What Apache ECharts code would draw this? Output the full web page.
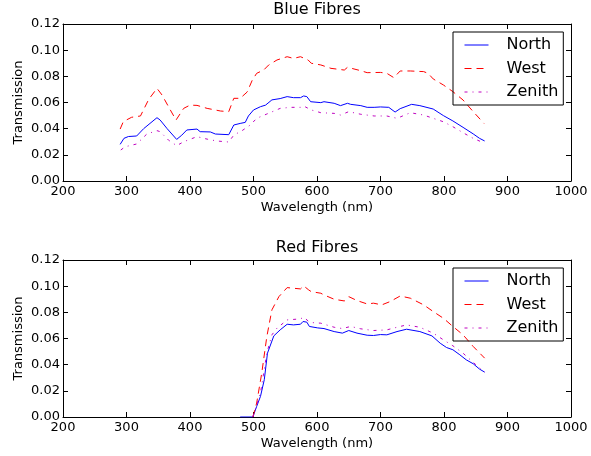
<!DOCTYPE html>
<html>
<head>
<meta charset="utf-8">
<script src="https://cdn.jsdelivr.net/npm/echarts@6/dist/echarts.min.js"></script>
<style>
	html, body { margin: 0; padding: 0; background: #fff; }
	#main { width: 591px; height: 456px; }
</style>
</head>
<body>
<div id="main"></div>
<script>
// [wavelength nm, transmission]
var blueNorth = [
	[290, 0.028], [296, 0.0326], [303, 0.034], [316, 0.0344], [327, 0.040], [337, 0.044], [348, 0.0484],
	[353, 0.0466], [364, 0.040], [379, 0.0318], [387, 0.035], [395, 0.039], [411, 0.0397], [416, 0.0377],
	[432, 0.0375], [440, 0.0359], [461, 0.0354], [469, 0.0428], [479, 0.044], [487, 0.0448], [492, 0.0497],
	[500, 0.0543], [511, 0.0568], [519, 0.058], [529, 0.062], [542, 0.063], [553, 0.0645], [563, 0.0637],
	[574, 0.0637], [579, 0.065], [584, 0.0645], [590, 0.0606], [606, 0.0599], [611, 0.0606], [627, 0.0594],
	[637, 0.0576], [648, 0.0594], [653, 0.0586], [669, 0.0576], [679, 0.0563], [690, 0.0563], [700, 0.0566],
	[713, 0.0563], [723, 0.0527], [731, 0.0553], [749, 0.0586], [762, 0.0576], [783, 0.055], [799, 0.050],
	[814, 0.0459], [830, 0.041], [846, 0.036], [856, 0.0326], [864, 0.0306]
];
var blueWest = [
	[290, 0.0397], [295, 0.0454], [308, 0.0487], [322, 0.0497], [335, 0.0624], [348, 0.0708], [356, 0.0657],
	[369, 0.0543], [378, 0.0466], [390, 0.0555], [400, 0.058], [411, 0.0578], [427, 0.0555], [448, 0.0535],
	[461, 0.053], [469, 0.0632], [479, 0.0632], [490, 0.068], [498, 0.077], [505, 0.0823], [516, 0.0848],
	[524, 0.0887], [537, 0.0925], [553, 0.095], [563, 0.0937], [574, 0.095], [577, 0.0963], [586, 0.0925],
	[591, 0.090], [606, 0.0887], [622, 0.0861], [643, 0.0848], [648, 0.0869], [669, 0.0843], [679, 0.0828],
	[700, 0.083], [710, 0.0823], [721, 0.079], [731, 0.0841], [747, 0.0841], [768, 0.0836], [775, 0.0823],
	[783, 0.078], [799, 0.0734], [814, 0.0683], [830, 0.0619], [846, 0.053], [863, 0.044]
];
var blueZenith = [
	[291, 0.0237], [298, 0.0262], [316, 0.0283], [332, 0.0359], [348, 0.0385], [353, 0.0377], [366, 0.0313],
	[379, 0.027], [390, 0.030], [411, 0.0339], [427, 0.032], [442, 0.0306], [461, 0.0298], [469, 0.0351],
	[482, 0.0385], [495, 0.0428], [505, 0.0479], [521, 0.0512], [542, 0.0555], [558, 0.0563], [574, 0.0563],
	[579, 0.0573], [591, 0.0543], [606, 0.0522], [627, 0.0517], [637, 0.0504], [650, 0.053], [669, 0.051],
	[690, 0.0497], [710, 0.0497], [726, 0.0479], [747, 0.0522], [768, 0.0504], [783, 0.0479], [799, 0.0453],
	[814, 0.0415], [830, 0.0369], [846, 0.0326], [862, 0.0293]
];
var redNorth = [
	[479, 0], [499, 0], [505, 0.0081], [511, 0.0158], [517, 0.0285], [522, 0.0488], [532, 0.062], [542, 0.0666],
	[553, 0.0709], [563, 0.0704], [574, 0.0709], [578, 0.073], [584, 0.0725], [588, 0.0692], [601, 0.0681],
	[611, 0.0676], [627, 0.0653], [640, 0.0641], [650, 0.0661], [663, 0.0641], [679, 0.0625], [689, 0.0623],
	[700, 0.063], [710, 0.0628], [726, 0.0653], [741, 0.0671], [762, 0.0653], [781, 0.062], [794, 0.0564],
	[804, 0.0531], [814, 0.0514], [825, 0.0475], [835, 0.0437], [846, 0.0407], [856, 0.0366], [864, 0.0343]
];
var redWest = [
	[499, 0], [505, 0.0107], [513, 0.0336], [521, 0.0615], [529, 0.0819], [540, 0.092], [553, 0.0989],
	[563, 0.0984], [574, 0.0979], [579, 0.1002], [587, 0.0971], [591, 0.0958], [606, 0.0946], [611, 0.0933],
	[627, 0.09], [643, 0.0887], [650, 0.092], [663, 0.089], [679, 0.0864], [689, 0.087], [702, 0.0857],
	[715, 0.0882], [731, 0.0925], [747, 0.0908], [768, 0.0857], [783, 0.0806], [799, 0.0755], [814, 0.0692],
	[830, 0.0628], [846, 0.0539], [864, 0.045]
];
var redZenith = [
	[499, 0], [511, 0.0183], [521, 0.0488], [529, 0.0628], [537, 0.0679], [553, 0.0742], [574, 0.075],
	[579, 0.0763], [587, 0.073], [591, 0.0722], [606, 0.0717], [627, 0.0686], [640, 0.0676], [653, 0.0692],
	[669, 0.0674], [689, 0.0661], [710, 0.0666], [726, 0.0686], [741, 0.0704], [762, 0.0686], [783, 0.0641],
	[799, 0.059], [814, 0.0544], [830, 0.0488], [846, 0.0417], [864, 0.0343]
];
var names = ["North", "West", "Zenith"];
var titles = ["Blue Fibres", "Red Fibres"];

var FONT = "DejaVu Sans";
var colors = ["#0000ff", "#ff0000", "#bf00bf"];
var dashes = ["solid", [7, 5], [3, 5, 1, 5]];

function xAx(grid, pos, main) {
	return {
		type: "value", gridIndex: grid, position: pos,
		min: 200, max: 1000, interval: 100,
		name: main ? "Wavelength (nm)" : "",
		nameLocation: "middle", nameGap: 20, nameMoveOverlap: false,
		nameTextStyle: { fontFamily: FONT, fontSize: 13, color: "#000" },
		axisLine: { show: true, onZero: false, lineStyle: { color: "#000", width: 1 } },
		axisTick: { show: true, inside: true, length: 5, lineStyle: { color: "#000" } },
		axisLabel: {
			show: main, margin: 4, fontFamily: FONT, fontSize: 13, color: "#000",
			formatter: function (v) { return String(v); }
		},
		splitLine: { show: false }
	};
}
function yAx(grid, pos, main) {
	return {
		type: "value", gridIndex: grid, position: pos,
		min: 0, max: 0.12, interval: 0.02,
		name: main ? "Transmission" : "",
		nameLocation: "middle", nameGap: 38, nameRotate: 90, nameMoveOverlap: false,
		nameTextStyle: { fontFamily: FONT, fontSize: 13, color: "#000" },
		axisLine: { show: true, onZero: false, lineStyle: { color: "#000", width: 1 } },
		axisTick: { show: true, inside: true, length: 5, lineStyle: { color: "#000" } },
		axisLabel: {
			show: main, margin: 3, fontFamily: FONT, fontSize: 13, color: "#000",
			formatter: function (v) { return v.toFixed(2); }
		},
		splitLine: { show: false }
	};
}
function line(name, data, k, g) {
	return {
		name: name, type: "line", data: data,
		xAxisIndex: g * 2, yAxisIndex: g * 2,
		symbol: "none", showSymbol: false,
		lineStyle: { color: colors[k], width: 1, type: dashes[k] },
		itemStyle: { color: colors[k] },
		emphasis: { disabled: true }
	};
}
function legend(top) {
	return {
		orient: "vertical", left: 453, top: top,
		data: names,
		itemWidth: 24, itemHeight: 12, itemGap: 7.5,
		padding: [5, 5, 5, 11],
		borderColor: "#000", borderWidth: 1, borderRadius: 0,
		itemStyle: { opacity: 0 },
		lineStyle: { width: 1 },
		textStyle: { fontFamily: FONT, fontSize: 16, color: "#000", padding: [0, 0, 0, 13] }
	};
}

var myChart = echarts.init(document.getElementById("main"), null, { renderer: "canvas" });
var option = {
	animation: false,
	title: [
		{ text: titles[0], left: 317, top: 2, textAlign: "center", padding: 0,
			textStyle: { fontFamily: FONT, fontSize: 16, fontWeight: "normal", color: "#000" } },
		{ text: titles[1], left: 317, top: 240, textAlign: "center", padding: 0,
			textStyle: { fontFamily: FONT, fontSize: 16, fontWeight: "normal", color: "#000" } }
	],
	grid: [
		{ left: 63, top: 24, width: 508, height: 157 },
		{ left: 63, top: 260, width: 508, height: 157 }
	],
	xAxis: [xAx(0, "bottom", true), xAx(0, "top", false), xAx(1, "bottom", true), xAx(1, "top", false)],
	yAxis: [yAx(0, "left", true), yAx(0, "right", false), yAx(1, "left", true), yAx(1, "right", false)],
	legend: [legend(32), legend(268)],
	series: [
		line(names[0], blueNorth, 0, 0),
		line(names[1], blueWest, 1, 0),
		line(names[2], blueZenith, 2, 0),
		line(names[0], redNorth, 0, 1),
		line(names[1], redWest, 1, 1),
		line(names[2], redZenith, 2, 1)
	]
};
myChart.setOption(option);
</script>
</body>
</html>
